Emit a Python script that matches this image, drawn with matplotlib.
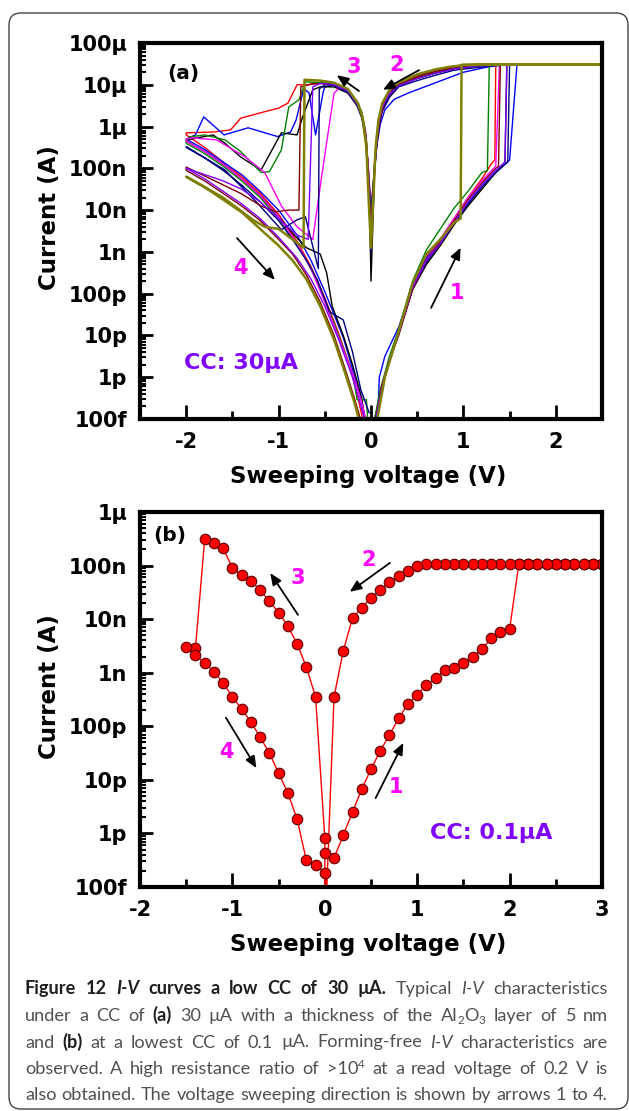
import re
import numpy as np
import matplotlib
matplotlib.use('Agg')
import matplotlib.pyplot as plt
from matplotlib.ticker import FixedLocator, FixedFormatter, LogLocator, NullFormatter, MultipleLocator
from matplotlib.patches import FancyBboxPatch
from matplotlib.transforms import IdentityTransform

# ---------------- data (voltage in V, current as log10(A)) ----------------
# panel (a): nine sweeps, each 0 -> +Vmax -> 0 -> -2 -> 0
red_v = [0.04, 0.1, 0.2, 0.3, 0.45, 0.6, 0.75, 0.9, 1.05, 1.2, 1.3, 1.34, 1.35, 1.45,
         1.2, 1.0, 0.85, 0.68, 0.47, 0.3, 0.2, 0.13, 0.09, 0.05, 0.0,
         -0.03, -0.06, -0.1, -0.15, -0.25, -0.4, -0.55, -0.67, -0.8, -0.9, -1.0, -1.16, -1.41, -1.52, -1.7, -2.0,
         -2.0, -1.9, -1.8, -1.6, -1.4, -1.2, -1.0, -0.8, -0.65, -0.5, -0.35, -0.25, -0.15, -0.07]
red_i = [-13.0, -12.4, -11.6, -10.9, -9.8, -9.1, -8.7, -8.2, -7.7, -7.25, -6.9, -6.8, -4.52, -4.52,
         -4.52, -4.55, -4.62, -4.72, -4.85, -5.0, -5.2, -5.5, -5.9, -6.6, -8.0,
         -6.9, -6.1, -5.7, -5.4, -5.12, -4.98, -4.95, -5.0, -5.0, -5.44, -5.56, -5.65, -5.8, -6.08, -6.13, -6.15,
         -6.2, -6.35, -6.5, -6.85, -7.2, -7.6, -8.1, -8.75, -9.35, -10.1, -10.95, -11.6, -12.4, -13.2]

blue_v = [0.04, 0.08, 0.09, 0.15, 0.3, 0.45, 0.6, 0.75, 0.9, 1.05, 1.2, 1.35, 1.5, 1.58, 1.6,
          1.4, 1.27, 1.0, 0.64, 0.4, 0.25, 0.15, 0.1, 0.06, 0.0,
          -0.03, -0.06, -0.1, -0.15, -0.25, -0.4, -0.5, -0.52, -0.6, -0.67, -0.72, -0.74, -0.81, -0.87, -1.01,
          -1.33, -1.59, -1.81, -1.9, -2.0,
          -2.0, -1.8, -1.6, -1.4, -1.2, -1.0, -0.8, -0.65, -0.5, -0.4, -0.3, -0.2, -0.1, -0.05]
blue_i = [-13.1, -12.6, -12.0, -11.5, -10.8, -9.8, -9.15, -8.75, -8.3, -7.85, -7.4, -7.1, -6.8, -4.52, -4.52,
          -4.53, -4.57, -4.7, -5.0, -5.2, -5.35, -5.6, -5.95, -6.5, -8.0,
          -7.0, -6.2, -5.75, -5.45, -5.15, -5.0, -5.05, -5.2, -6.2, -5.2, -5.1, -5.2, -5.84, -6.13, -6.24,
          -6.03, -6.2, -5.77, -6.2, -6.3,
          -6.3, -6.55, -6.85, -7.15, -7.55, -8.0, -8.6, -9.2, -9.95, -10.5, -11.05, -11.8, -12.6, -13.1]

black_v = [0.05, 0.12, 0.2, 0.3, 0.45, 0.6, 0.75, 0.9, 1.05, 1.2, 1.35, 1.45, 1.47, 1.5,
           1.3, 1.1, 0.9, 0.7, 0.5, 0.3, 0.2, 0.12, 0.08, 0.04, 0.0,
           -0.02, -0.05, -0.1, -0.15, -0.25, -0.4, -0.55, -0.63, -0.74, -0.8, -0.97, -1.19, -1.41, -1.58, -1.71, -2.0,
           -2.0, -1.8, -1.6, -1.4, -1.2, -1.0, -0.85, -0.7, -0.55, -0.48, -0.42, -0.3, -0.2, -0.1, -0.06]
black_i = [-13.0, -12.2, -11.55, -10.95, -9.9, -9.3, -8.85, -8.35, -7.9, -7.5, -7.1, -6.85, -4.52, -4.52,
           -4.53, -4.57, -4.62, -4.72, -4.85, -5.02, -5.25, -5.6, -6.0, -7.0, -9.7,
           -7.5, -6.3, -5.75, -5.5, -5.2, -5.05, -5.05, -5.12, -5.77, -6.2, -6.15, -7.04, -6.73, -6.4, -6.2, -6.32,
           -6.35, -6.6, -6.9, -7.25, -7.65, -8.15, -8.55, -8.9, -9.05, -9.5, -10.3, -11.0, -11.7, -12.5, -13.1]

green_v = [0.03, 0.1, 0.2, 0.3, 0.45, 0.6, 0.75, 0.9, 1.05, 1.2, 1.26, 1.28, 1.3,
           1.1, 0.9, 0.7, 0.5, 0.3, 0.2, 0.12, 0.08, 0.04, 0.0,
           -0.03, -0.06, -0.1, -0.15, -0.25, -0.4, -0.55, -0.71, -0.78, -0.89, -0.97, -1.1, -1.19, -1.41, -1.58,
           -1.8, -1.97, -2.0,
           -2.0, -1.8, -1.6, -1.4, -1.2, -1.0, -0.8, -0.65, -0.5, -0.35, -0.2, -0.15, -0.05, -0.03]
green_i = [-13.1, -12.3, -11.5, -10.85, -9.7, -8.95, -8.45, -7.95, -7.55, -7.1, -7.05, -4.52, -4.52,
           -4.53, -4.58, -4.68, -4.8, -4.98, -5.18, -5.5, -5.9, -6.8, -8.3,
           -7.0, -6.1, -5.65, -5.4, -5.12, -4.98, -4.95, -4.93, -5.36, -5.53, -6.56, -7.08, -7.1, -6.6, -6.32,
           -6.2, -6.25, -6.35,
           -6.4, -6.65, -6.95, -7.3, -7.7, -8.2, -8.8, -9.4, -10.15, -11.0, -11.9, -12.54, -12.54, -13.2]

mag_v = [0.05, 0.12, 0.2, 0.3, 0.45, 0.6, 0.75, 0.9, 1.05, 1.2, 1.35, 1.39, 1.42,
         1.2, 1.0, 0.8, 0.6, 0.4, 0.25, 0.15, 0.1, 0.06, 0.0,
         -0.03, -0.06, -0.1, -0.15, -0.25, -0.33, -0.4, -0.54, -0.63, -0.8, -0.97, -1.15, -1.36, -1.67, -1.93, -2.0,
         -2.0, -1.8, -1.6, -1.4, -1.2, -1.0, -0.8, -0.65, -0.5, -0.35, -0.2, -0.1, -0.05]
mag_i = [-13.1, -12.2, -11.6, -10.9, -9.85, -9.2, -8.7, -8.2, -7.7, -7.3, -6.95, -4.52, -4.52,
         -4.52, -4.55, -4.6, -4.7, -4.85, -5.05, -5.35, -5.75, -6.3, -8.6,
         -7.0, -6.15, -5.7, -5.42, -5.13, -5.05, -5.2, -7.28, -8.7, -8.4, -7.9, -7.1, -6.73, -6.32, -6.27, -6.3,
         -6.35, -6.6, -6.9, -7.25, -7.65, -8.15, -8.8, -9.4, -10.2, -11.05, -11.9, -12.6, -13.1]

navy_v = [0.06, 0.15, 0.3, 0.45, 0.6, 0.75, 0.9, 1.05, 1.2, 1.35, 1.48, 1.5, 1.52,
          1.3, 1.1, 0.9, 0.7, 0.5, 0.3, 0.2, 0.12, 0.08, 0.04, 0.0,
          -0.03, -0.06, -0.1, -0.15, -0.25, -0.4, -0.5, -0.56, -0.57, -0.71, -0.8, -0.97, -1.23, -1.58, -2.0,
          -2.0, -1.8, -1.6, -1.4, -1.2, -1.0, -0.85, -0.7, -0.58, -0.45, -0.3, -0.2, -0.11, -0.02]
navy_i = [-13.1, -12.0, -10.9, -9.9, -9.25, -8.8, -8.3, -7.85, -7.45, -7.1, -6.85, -4.52, -4.52,
          -4.55, -4.6, -4.65, -4.77, -4.9, -5.05, -5.3, -5.65, -6.05, -7.0, -9.0,
          -7.3, -6.3, -5.8, -5.5, -5.18, -5.02, -5.0, -5.1, -9.4, -8.16, -8.23, -8.47, -7.83, -7.04, -6.48,
          -6.5, -6.75, -7.05, -7.4, -7.8, -8.25, -8.7, -9.2, -9.67, -10.43, -10.63, -11.4, -12.3, -12.85]

mar_v = [0.05, 0.12, 0.2, 0.3, 0.45, 0.6, 0.75, 0.9, 1.05, 1.2, 1.35, 1.38, 1.4, 1.43,
         1.2, 1.0, 0.8, 0.6, 0.4, 0.25, 0.15, 0.1, 0.05, 0.0,
         -0.03, -0.06, -0.1, -0.15, -0.25, -0.4, -0.55, -0.65, -0.76, -0.78, -0.89, -1.03, -1.19, -1.41, -2.0,
         -2.0, -1.8, -1.6, -1.4, -1.2, -1.0, -0.85, -0.7, -0.55, -0.4, -0.28, -0.18, -0.1]
mar_i = [-13.0, -12.2, -11.6, -11.0, -9.9, -9.2, -8.75, -8.25, -7.75, -7.35, -7.0, -6.95, -4.52, -4.52,
         -4.52, -4.56, -4.63, -4.73, -4.88, -5.05, -5.4, -5.8, -6.6, -8.4,
         -7.1, -6.2, -5.72, -5.45, -5.14, -5.0, -4.97, -4.98, -5.05, -8.0, -8.0, -8.04, -7.9, -7.6, -6.97,
         -7.05, -7.3, -7.6, -7.9, -8.25, -8.7, -9.05, -9.55, -10.2, -11.0, -11.8, -12.5, -13.1]

pur_v = [0.05, 0.15, 0.3, 0.45, 0.6, 0.75, 0.9, 1.05, 1.2, 1.35, 1.45, 1.47, 1.5,
         1.3, 1.1, 0.9, 0.7, 0.5, 0.3, 0.2, 0.12, 0.08, 0.04, 0.0,
         -0.03, -0.06, -0.1, -0.15, -0.25, -0.4, -0.55, -0.63, -0.68, -0.8, -1.0, -1.2, -1.4, -1.6, -1.8, -2.0,
         -2.0, -1.8, -1.6, -1.4, -1.2, -1.0, -0.8, -0.65, -0.5, -0.35, -0.2, -0.12, -0.06]
pur_i = [-13.0, -11.95, -10.95, -9.85, -9.2, -8.8, -8.3, -7.8, -7.4, -7.05, -6.85, -4.52, -4.52,
         -4.53, -4.56, -4.62, -4.72, -4.85, -5.02, -5.22, -5.55, -5.95, -6.9, -8.8,
         -7.2, -6.2, -5.73, -5.45, -5.15, -5.0, -4.97, -5.05, -8.7, -8.6, -8.2, -7.8, -7.5, -7.3, -7.15, -7.0,
         -7.0, -7.25, -7.55, -7.85, -8.2, -8.65, -9.15, -9.65, -10.3, -11.1, -12.0, -12.6, -13.1]

oli_v = [0.06, 0.15, 0.3, 0.45, 0.6, 0.75, 0.9, 0.97, 0.98, 2.6,
         2.6, 1.2, 1.0, 0.85, 0.7, 0.5, 0.3, 0.2, 0.12, 0.08, 0.05, 0.02, 0.0,
         -0.02, -0.05, -0.09, -0.14, -0.25, -0.4, -0.55, -0.72, -0.73, -1.0, -1.15, -1.28, -1.6, -2.0,
         -2.0, -1.8, -1.6, -1.4, -1.2, -1.0, -0.85, -0.7, -0.55, -0.4, -0.28, -0.18, -0.12]
oli_i = [-13.1, -12.0, -10.9, -9.75, -9.05, -8.7, -8.3, -8.2, -4.52, -4.52,
         -4.52, -4.52, -4.53, -4.57, -4.63, -4.75, -4.95, -5.12, -5.45, -5.85, -6.5, -8.0, -8.9,
         -8.0, -6.5, -5.8, -5.45, -5.1, -4.95, -4.9, -4.88, -8.9, -8.45, -8.4, -8.23, -7.7, -7.2,
         -7.2, -7.45, -7.75, -8.05, -8.45, -8.85, -9.2, -9.65, -10.3, -11.1, -11.9, -12.6, -13.1]

# panel (b): one sweep with CC 0.1 uA
b1_v = [0.0, 0.1, 0.2, 0.3, 0.4, 0.5, 0.6, 0.7, 0.8, 0.9, 1.0, 1.1, 1.2, 1.3, 1.4, 1.5, 1.6, 1.7, 1.8, 1.9, 2.0,
        2.1, 2.2, 2.3, 2.4, 2.5, 2.6, 2.7, 2.8, 2.9, 3.0]
b1_i = [-12.36, -12.46, -12.03, -11.6, -11.17, -10.8, -10.46, -10.16, -9.85, -9.58, -9.41, -9.23, -9.1,
        -8.95, -8.92, -8.82, -8.7, -8.56, -8.36, -8.24, -8.19,
        -6.97, -6.97, -6.97, -6.97, -6.97, -6.97, -6.97, -6.97, -6.97, -6.97]
b2_v = [3.0, 2.9, 2.8, 2.7, 2.6, 2.5, 2.4, 2.3, 2.2, 2.1, 2.0, 1.9, 1.8, 1.7, 1.6, 1.5, 1.4, 1.3, 1.2, 1.1,
        1.0, 0.9, 0.8, 0.7, 0.6, 0.5, 0.4, 0.3, 0.2, 0.1, 0.0]
b2_i = [-6.97, -6.97, -6.97, -6.97, -6.97, -6.97, -6.97, -6.97, -6.97, -6.97, -6.97, -6.97, -6.97, -6.97,
        -6.97, -6.97, -6.97, -6.97, -6.97, -6.97,
        -7.0, -7.1, -7.2, -7.3, -7.46, -7.6, -7.79, -7.98, -8.59, -9.45, -14.0]
b3_v = [0.0, -0.1, -0.2, -0.3, -0.4, -0.5, -0.6, -0.7, -0.8, -0.9, -1.0, -1.1, -1.2, -1.3, -1.4, -1.5]
b3_i = [-12.08, -9.45, -8.89, -8.46, -8.13, -7.88, -7.66, -7.46, -7.28, -7.18, -7.04, -6.68, -6.57, -6.51,
        -8.54, -8.52]
b4_v = [-1.4, -1.3, -1.2, -1.1, -1.0, -0.9, -0.8, -0.7, -0.6, -0.5, -0.4, -0.3, -0.2, -0.1, 0.0, 0.05]
b4_i = [-8.67, -8.82, -8.98, -9.19, -9.45, -9.68, -9.92, -10.2, -10.5, -10.87, -11.25, -11.73, -12.5,
        -12.59, -12.74, -13.6]

a_yticks = [1e-13, 1e-12, 1e-11, 1e-10, 1e-9, 1e-8, 1e-7, 1e-6, 1e-5, 1e-4]
a_ylabels = ['100f', '1p', '10p', '100p', '1n', '10n', '100n', '1\u00b5', '10\u00b5', '100\u00b5']
b_yticks = [1e-13, 1e-12, 1e-11, 1e-10, 1e-9, 1e-8, 1e-7, 1e-6]
b_ylabels = ['100f', '1p', '10p', '100p', '1n', '10n', '100n', '1\u00b5']
a_xticks = [-2, -1, 0, 1, 2]
b_xticks = [-2, -1, 0, 1, 2, 3]

# ---------------- figure ----------------
W, H = 629, 1111
plt.rcParams['font.family'] = 'DejaVu Sans'
fig = plt.figure(figsize=(W / 100, H / 100), dpi=100)
fig.patch.set_facecolor('white')


def px_axes(left, top, right, bottom):
    return fig.add_axes([left / W, 1 - bottom / H, (right - left) / W, (bottom - top) / H])


def style_axes(ax, yticks, ylabels, xlim, xticks):
    ax.set_yscale('log')
    ax.set_ylim(yticks[0], yticks[-1])
    ax.set_xlim(*xlim)
    ax.yaxis.set_major_locator(FixedLocator(yticks))
    ax.yaxis.set_major_formatter(FixedFormatter(ylabels))
    ax.yaxis.set_minor_locator(LogLocator(base=10, subs=np.arange(2, 10), numticks=30))
    ax.yaxis.set_minor_formatter(NullFormatter())
    ax.set_xticks(xticks)
    ax.set_xticklabels([str(t) for t in xticks])
    ax.xaxis.set_minor_locator(MultipleLocator(0.5))
    ax.tick_params(which='both', direction='in', top=False, right=False, width=2.0)
    ax.tick_params(axis='x', which='major', length=10, pad=9)
    ax.tick_params(axis='x', which='minor', length=5.5)
    ax.tick_params(axis='y', which='major', length=9, pad=9)
    ax.tick_params(axis='y', which='minor', length=4, width=1.5)
    for lab in ax.get_xticklabels() + ax.get_yticklabels():
        lab.set_fontsize(15)
        lab.set_fontweight('bold')
    for sp in ax.spines.values():
        sp.set_linewidth(3.0)
    ax.text(-0.195, 0.535, 'Current (A)', transform=ax.transAxes, rotation=90,
            ha='center', va='center', fontsize=16.5, fontweight='bold')
    ax.text(0.4935, -0.152, 'Sweeping voltage (V)', transform=ax.transAxes,
            ha='center', va='center', fontsize=16.5, fontweight='bold')


def arrow(ax, x1, l1, x2, l2):
    ax.annotate('', xy=(x2, 10 ** l2), xytext=(x1, 10 ** l1),
                arrowprops=dict(arrowstyle='-|>,head_length=0.7,head_width=0.3', color='black',
                                lw=1.3, shrinkA=0, shrinkB=0))


# ---- panel (a)
ax_a = px_axes(140, 43, 602, 419)
curves_a = [(red_v, red_i, '#ff0000', 1.0), (blue_v, blue_i, '#0000ff', 1.0),
            (black_v, black_i, '#000000', 1.0), (green_v, green_i, '#008000', 1.0),
            (mag_v, mag_i, '#ff00ff', 1.0), (navy_v, navy_i, '#000080', 1.0),
            (mar_v, mar_i, '#800000', 1.0), (pur_v, pur_i, '#8000ff', 1.0),
            (oli_v, oli_i, '#808000', 1.8)]
for v, i, c, lw in curves_a:
    ax_a.plot(v, 10.0 ** np.array(i), color=c, lw=lw)
style_axes(ax_a, a_yticks, a_ylabels, (-2.5, 2.5), a_xticks)

ax_a.text(-2.03, 10 ** -4.72, '(a)', fontsize=14.5, fontweight='bold', ha='center', va='center')
ax_a.text(-2.02, 10 ** -11.66, 'CC: 30\u00b5A', fontsize=16, fontweight='bold', color='#8000ff',
          ha='left', va='center')
for txt, x, l in [('3', -0.19, -4.57), ('2', 0.28, -4.53), ('4', -1.41, -9.38), ('1', 0.93, -9.98)]:
    ax_a.text(x, 10 ** l, txt, fontsize=15, fontweight='bold', color='#ff00ff', ha='center', va='center')
arrow(ax_a, -0.13, -5.15, -0.37, -4.77)
arrow(ax_a, 0.52, -4.65, 0.13, -5.12)
arrow(ax_a, -1.45, -8.67, -1.04, -9.67)
arrow(ax_a, 0.65, -10.34, 0.97, -8.9)

# ---- panel (b)
ax_b = px_axes(140, 512, 602, 887)
bv = b1_v + b2_v + b3_v + b4_v
bi = b1_i + b2_i + b3_i + b4_i
ax_b.plot(bv, 10.0 ** np.array(bi), color='#ff0000', lw=1.0, marker='o', markersize=7.6,
          markerfacecolor='#ff0000', markeredgecolor='#5a0000', markeredgewidth=0.8)
style_axes(ax_b, b_yticks, b_ylabels, (-2, 3), b_xticks)

ax_b.text(-1.675, 10 ** -6.43, '(b)', fontsize=14.5, fontweight='bold', ha='center', va='center')
ax_b.text(1.8, 10 ** -12.0, 'CC: 0.1\u00b5A', fontsize=16, fontweight='bold', color='#8000ff',
          ha='center', va='center')
for txt, x, l in [('2', 0.47, -6.9), ('3', -0.29, -7.23), ('4', -1.07, -10.48), ('1', 0.77, -11.13)]:
    ax_b.text(x, 10 ** l, txt, fontsize=15, fontweight='bold', color='#ff00ff', ha='center', va='center')
arrow(ax_b, 0.705, -6.95, 0.27, -7.49)
arrow(ax_b, -0.29, -7.92, -0.59, -7.14)
arrow(ax_b, -1.07, -9.84, -0.74, -10.78)
arrow(ax_b, 0.55, -11.34, 0.85, -10.31)

# ---- frame
frame = FancyBboxPatch((9, H - 1109), 619, 1096, boxstyle='round,pad=0,rounding_size=12',
                       transform=IdentityTransform(), facecolor='none', edgecolor='#444444', lw=1.0)
fig.patches.append(frame)

# ---- caption
cap_lines = [
    [('Figure 12 ', 'b'), ('I-V', 'bi'), (' curves a low CC of 30 \u00b5A.', 'b'), (' Typical ', 'r'),
     ('I-V', 'i'), (' characteristics', 'r')],
    [('under a CC of ', 'r'), ('(a)', 'b'), (' 30 \u00b5A with a thickness of the Al', 'r'), ('2', 'sub'),
     ('O', 'r'), ('3', 'sub'), (' layer of 5 nm', 'r')],
    [('and ', 'r'), ('(b)', 'b'), (' at a lowest CC of 0.1 \u00b5A. Forming-free ', 'r'), ('I-V', 'i'),
     (' characteristics are', 'r')],
    [('observed. A high resistance ratio of >10', 'r'), ('4', 'sup'), (' at a read voltage of 0.2 V is', 'r')],
    [('also obtained. The voltage sweeping direction is shown by arrows 1 to 4.', 'r')],
]
cap_base = [994, 1021, 1047.5, 1074, 1100]
cap_font = 'Lato'
cap_x0, cap_x1 = 25, 608
renderer = fig.canvas.get_renderer()


def style_of(kind, size):
    dark, grey = '#1e1e1e', '#505050'
    d = dict(family=cap_font, fontsize=size, color=grey, weight='normal', style='normal')
    dy = 0
    if kind in ('b', 'bi'):
        d.update(weight='bold', color=dark)
    if kind in ('bi', 'i'):
        d['style'] = 'italic'
    if kind == 'sub':
        d['fontsize'] = size * 0.65
        dy = -3
    if kind == 'sup':
        d['fontsize'] = size * 0.65
        dy = 6
    return d, dy


def width_of(s, props):
    t = fig.text(0, 0, s, transform=IdentityTransform(), **props)
    w = t.get_window_extent(renderer).width
    t.remove()
    return w


def tokens_of(line, size):
    out = []
    for txt, kind in line:
        props, dy = style_of(kind, size)
        for part in re.split(r'( )', txt):
            if part == '':
                continue
            if part == ' ':
                w = width_of('i i', props) - width_of('ii', props)
                out.append((None, props, dy, w))
            else:
                out.append((part, props, dy, width_of(part, props)))
    return out


# pick the size so that the longest line fits
base = 10.0
nat = [sum(t[3] for t in tokens_of(line, base)) for line in cap_lines]
size = base * (cap_x1 - cap_x0 - 4) / max(nat)

for line, yb in zip(cap_lines, cap_base):
    toks = tokens_of(line, size)
    natural = sum(t[3] for t in toks)
    nsp = sum(1 for t in toks if t[0] is None)
    extra = (cap_x1 - cap_x0 - natural) / nsp if nsp else 0
    x = cap_x0
    for txt, props, dy, w in toks:
        if txt is None:
            x += w + extra
        else:
            fig.text(x, H - yb + dy, txt, transform=IdentityTransform(), va='baseline', ha='left', **props)
            x += w

fig.savefig('out.png', dpi=100, facecolor='white')
